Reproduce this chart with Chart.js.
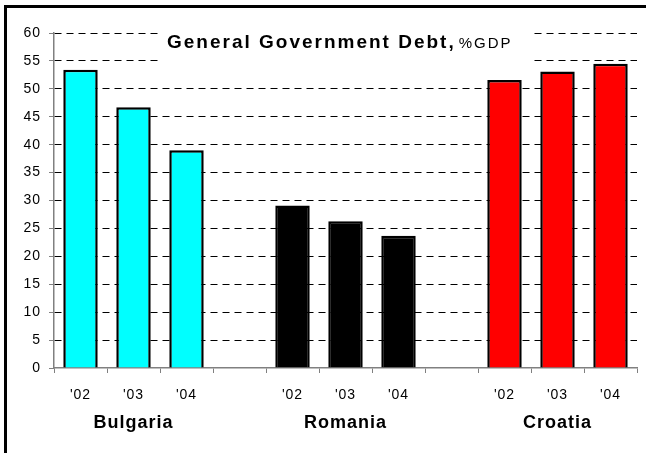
<!DOCTYPE html>
<html><head><meta charset="utf-8">
<script src="https://cdn.jsdelivr.net/npm/chart.js@4"></script>
<style>
html,body{margin:0;padding:0;background:#fff;}
#wrap{position:relative;width:646px;height:453px;overflow:hidden;}
#frame{position:absolute;left:4px;top:5px;width:700px;height:500px;border-left:3px solid #000;border-top:3px solid #000;pointer-events:none;}
canvas{display:block;}
</style></head><body>
<div id="wrap"><canvas id="c" width="646" height="453"></canvas><div id="frame"></div></div>
<script>
// ---- data ----
const yearLabels = ["'02", "'03", "'04", "", "'02", "'03", "'04", "", "'02", "'03", "'04"];
const groupLabels = ["", "Bulgaria", "", "", "", "Romania", "", "", "", "Croatia", ""];
const bulgaria = [53.4, 46.7, 39.0];
const romania = [29.1, 26.3, 23.7];
const croatia = [51.6, 53.1, 54.5];
const titleMain = "General Government Debt,";
const titleUnit = "%GDP";

const values = [...bulgaria, null, ...romania, null, ...croatia];
const colors = [...bulgaria.map(() => '#00FFFF'), 'rgba(0,0,0,0)',
                ...romania.map(() => '#000000'), 'rgba(0,0,0,0)',
                ...croatia.map(() => '#FF0000')];

Chart.defaults.font.family = 'Arial, "Liberation Sans", sans-serif';
Chart.defaults.color = '#000';

const spacingPlugin = {
  id: 'spacing',
  beforeInit(chart) { chart.ctx.letterSpacing = '1px'; },
  beforeDraw(chart) { chart.ctx.letterSpacing = '1px'; },
  afterDatasetsDraw(chart) { chart.ctx.letterSpacing = '1.5px'; }
};

const titlePlugin = {
  id: 'boxTitle',
  afterDraw(chart) {
    const ctx = chart.ctx;
    ctx.save();
    ctx.fillStyle = '#fff';
    ctx.fillRect(160, 26, 374, 38);
    ctx.fillStyle = '#000';
    ctx.textBaseline = 'alphabetic';
    ctx.textAlign = 'left';
    ctx.letterSpacing = '2px';
    ctx.font = 'bold 19px Arial, "Liberation Sans", sans-serif';
    const x0 = 167, y0 = 48;
    ctx.fillText(titleMain, x0, y0);
    const w = ctx.measureText(titleMain).width;
    ctx.letterSpacing = '2px';
    ctx.font = '15px Arial, "Liberation Sans", sans-serif';
    ctx.fillText(titleUnit, x0 + w + 3, y0);
    ctx.restore();
    ctx.letterSpacing = '1px';
  }
};

new Chart(document.getElementById('c'), {
  type: 'bar',
  data: {
    labels: yearLabels,
    datasets: [{
      data: values,
      backgroundColor: colors,
      borderColor: '#000',
      borderWidth: 2.5,
      barPercentage: 0.65,
      categoryPercentage: 1.0
    }]
  },
  options: {
    responsive: false,
    animation: false,
    devicePixelRatio: 1,
    layout: { padding: { left: 0, top: 33, right: 9, bottom: 0 } },
    plugins: { legend: { display: false }, title: { display: false }, tooltip: { enabled: false } },
    scales: {
      y: {
        min: 0, max: 60,
        ticks: { stepSize: 5, font: { size: 14 }, color: '#000', padding: 8 },
        grid: {
          color: c => (c.tick && c.tick.value === 0) ? 'rgba(0,0,0,0)' : '#000',
          tickColor: '#808080',
          tickLength: 5,
          lineWidth: 1
        },
        border: { color: '#808080', width: 1.5, dash: [7, 5] },
        afterFit: s => { s.width = 54; }
      },
      x: {
        offset: true,
        grid: { offset: true, drawOnChartArea: false, drawTicks: true, tickLength: 5, color: '#808080' },
        border: { color: '#808080', width: 1.5 },
        ticks: { font: { size: 14 }, color: '#000', padding: 14, maxRotation: 0, autoSkip: false },
        afterFit: s => { s.height = 40; }
      },
      x2: {
        type: 'category',
        labels: groupLabels,
        position: 'bottom',
        offset: true,
        z: 1,
        grid: { display: false, drawTicks: false },
        border: { display: false },
        ticks: { font: { size: 18, weight: 'bold' }, color: '#000', padding: 4, maxRotation: 0, autoSkip: false },
        afterFit: s => { s.height = 45; }
      }
    }
  },
  plugins: [spacingPlugin, titlePlugin]
});
</script>
</body></html>
